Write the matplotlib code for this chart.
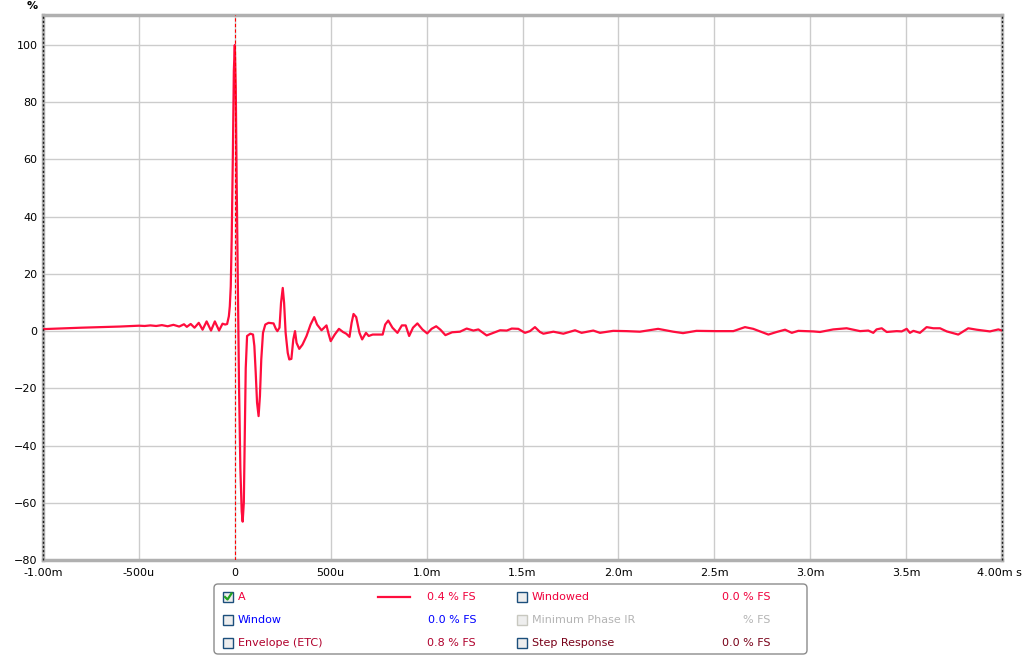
import matplotlib.pyplot as plt
from matplotlib.patches import FancyBboxPatch, Rectangle

# impulse response (time in microseconds, level in %)
time_us = [-1000, -800, -600, -500, -470, -440, -410, -380, -350, -320,
           -290, -265, -250, -230, -210, -188, -168, -147, -124, -104,
           -82, -64, -50, -40, -31, -26, -21, -16, -10, -5,
           0, 5, 10, 16, 22, 29, 36, 41, 47, 52,
           57, 64, 81, 95, 102, 109, 116, 124, 131, 138,
           147, 159, 176, 202, 214, 222, 233, 241, 250, 257,
           265, 276, 284, 295, 305, 314, 322, 336, 353, 374,
           395, 414, 429, 452, 478, 490, 500, 521, 543, 564,
           581, 598, 609, 619, 633, 650, 664, 684, 698, 719,
           771, 784, 800, 822, 848, 871, 891, 909, 929, 952,
           978, 1003, 1026, 1050, 1072, 1098, 1133, 1174, 1209, 1244,
           1270, 1313, 1348, 1383, 1418, 1444, 1478, 1513, 1539, 1565,
           1591, 1609, 1661, 1713, 1774, 1808, 1869, 1904, 1973, 2043,
           2112, 2207, 2286, 2337, 2407, 2511, 2599, 2660, 2703, 2782,
           2825, 2869, 2904, 2938, 3016, 3051, 3120, 3190, 3260, 3303,
           3329, 3346, 3373, 3399, 3451, 3477, 3503, 3520, 3538, 3572,
           3607, 3642, 3677, 3712, 3772, 3824, 3868, 3903, 3937, 3981,
           4000]
level_pct = [0.7, 1.2, 1.6, 1.9, 1.8, 2.0, 1.8, 2.1, 1.7, 2.2,
             1.6, 2.4, 1.5, 2.5, 1.2, 2.9, 0.5, 3.4, 0.2, 3.4,
             0.2, 2.6, 2.3, 2.5, 5.2, 8.7, 15.7, 33, 62, 91,
             100, 85, 51, 16, -19, -48, -63, -66.6, -60, -37,
             -13, -1.7, -0.9, -1.2, -5.2, -14.5, -25, -29.7, -22.7, -9.9,
             -0.6, 2.3, 2.9, 2.7, 0.8, 0.0, 1.2, 9.9, 15.1, 9.9,
             -0.6, -7.6, -9.9, -9.7, -2.9, 0.0, -4.1, -6.2, -4.7, -1.7,
             2.3, 4.9, 2.3, 0.3, 2.0, -1.2, -3.5, -1.2, 0.8, -0.3,
             -0.9, -2.0, 2.9, 6.0, 4.9, -0.6, -2.9, -0.6, -1.7, -1.2,
             -1.2, 2.3, 3.7, 1.2, -0.6, 2.0, 2.0, -1.7, 1.2, 2.7,
             0.6, -0.8, 0.8, 1.7, 0.5, -1.4, -0.4, -0.2, 0.9, 0.2,
             0.6, -1.5, -0.6, 0.3, 0.2, 0.9, 0.8, -0.6, 0.0, 1.4,
             -0.3, -0.9, -0.2, -0.9, 0.3, -0.6, 0.2, -0.6, 0.1, 0.0,
             -0.2, 0.8, -0.2, -0.7, 0.1, 0.0, 0.0, 1.4, 0.8, -1.2,
             -0.3, 0.5, -0.6, 0.1, -0.1, -0.3, 0.6, 1.0, 0.0, 0.2,
             -0.6, 0.6, 1.0, -0.3, 0.0, -0.1, 0.8, -0.6, 0.1, -0.6,
             1.4, 1.0, 1.0, -0.1, -1.2, 1.0, 0.5, 0.2, -0.1, 0.6,
             0.2]
assert len(time_us) == len(level_pct)

x_ticks = [-1.0, -0.5, 0.0, 0.5, 1.0, 1.5, 2.0, 2.5, 3.0, 3.5, 4.0]
x_labels = ['-1.00m', '-500u', '0', '500u', '1.0m', '1.5m', '2.0m',
            '2.5m', '3.0m', '3.5m', '']
last_label = '4.00m s'
y_ticks = [-80, -60, -40, -20, 0, 20, 40, 60, 80, 100]

# legend rows: (label, colour, value text, checked)
legend_left = [('A', '#f0003c', '0.4 % FS', True),
               ('Window', '#0000ff', '0.0 % FS', False),
               ('Envelope (ETC)', '#b0002c', '0.8 % FS', False)]
legend_right = [('Windowed', '#f0003c', '0.0 % FS'),
                ('Minimum Phase IR', '#b4b4b4', '% FS'),
                ('Step Response', '#780018', '0.0 % FS')]

W, H = 1024, 657
fig = plt.figure(figsize=(W / 100, H / 100), dpi=100)
plt.rcParams['font.family'] = ['DejaVu Sans']
ax = fig.add_axes([43 / W, 1 - 560 / H, (1002 - 43) / W, (560 - 15) / H])

t_ms = [t / 1000 for t in time_us]
ax.plot(t_ms, level_pct, color='#ff0d3d', lw=1.6, zorder=3, solid_joinstyle='round')
ax.axvline(0, color='#ff0000', lw=0.8, ls=(0, (3, 2)), zorder=4)

ax.set_xlim(-1.0, 4.0)
ax.set_ylim(-80, 110.5)
ax.set_xticks(x_ticks)
ax.set_xticklabels(x_labels)
ax.set_yticks(y_ticks)
ax.grid(True, color='#cccccc', lw=1.0)
ax.set_axisbelow(True)
ax.tick_params(length=0, labelsize=8, pad=6, colors='#000000')
ax.tick_params(axis='y', pad=4)
for side in ['top', 'left', 'bottom']:
    ax.spines[side].set_color('#b0b0b0')
    ax.spines[side].set_linewidth(2.5)
ax.spines['right'].set_color('#c0c0c0')
ax.spines['right'].set_linewidth(2.5)
for edge in [-1.0, 4.0]:
    ax.axvline(edge, color='#202020', lw=1.0, ls=(0, (1.5, 1.5)), clip_on=False, zorder=5)

# overlay in pixel coordinates for the extra labels and legend box
ov = fig.add_axes([0, 0, 1, 1], facecolor='none')
ov.set_xlim(0, W)
ov.set_ylim(H, 0)
ov.axis('off')
ov.text(32, 6, '%', fontsize=8, fontweight='bold', ha='center', va='center')
ov.text(1022, 573, last_label, fontsize=8, ha='right', va='center')

ov.add_patch(FancyBboxPatch((214, 584), 593, 70, boxstyle='round,pad=0,rounding_size=4',
                            fc='white', ec='#8c8c8c', lw=1.0))

def checkbox(x, y, edge, checked=False):
    ov.add_patch(Rectangle((x, y - 5), 10, 10, fc='#eeeeee', ec=edge, lw=1.0))
    if checked:
        ov.plot([x + 2, x + 4.5, x + 8.5], [y, y + 2.5, y - 3.5], color='#21a121', lw=1.6)

rows_y = [597, 620, 643]
for (name, col, val, chk), y in zip(legend_left, rows_y):
    checkbox(223, y, '#1c4f7c', chk)
    ov.text(238, y, name, color=col, fontsize=8, va='center', ha='left')
    ov.text(476, y, val, color=col, fontsize=8, va='center', ha='right')
ov.plot([378, 410], [597, 597], color='#ff0d3d', lw=1.6)

for (name, col, val), y in zip(legend_right, rows_y):
    edge = '#c8c8c0' if name.startswith('Minimum') else '#1c4f7c'
    checkbox(517, y, edge)
    ov.text(532, y, name, color=col, fontsize=8, va='center', ha='left')
    ov.text(770, y, val, color=col, fontsize=8, va='center', ha='right')

fig.savefig('out.png', dpi=100)
